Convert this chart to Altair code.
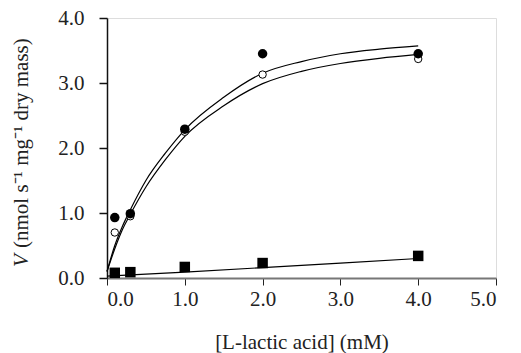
import altair as alt
import pandas as pd

conc = [0.1, 0.3, 1.0, 2.0, 4.0]
filled_circle = [0.93, 0.99, 2.29, 3.45, 3.45]
open_circle = [0.70, 0.95, 2.25, 3.13, 3.37]
filled_square = [0.08, 0.09, 0.17, 0.23, 0.34]

curve_x = [0.0, 0.1, 0.2, 0.3, 0.5, 0.75, 1.0, 1.5, 2.0, 2.5, 3.0, 3.5, 4.0]
curve_upper = [0.1, 0.5, 0.8, 1.05, 1.5, 1.92, 2.28, 2.78, 3.15, 3.33, 3.45, 3.52, 3.57]
curve_lower = [0.1, 0.45, 0.75, 0.98, 1.4, 1.82, 2.18, 2.65, 2.99, 3.18, 3.3, 3.38, 3.44]
line_x = [0.0, 1.0, 2.0, 3.0, 4.0]
line_sq = [0.03, 0.09, 0.16, 0.23, 0.30]

FONT = "Liberation Serif"
FS = 21

pts = pd.DataFrame({"x": conc, "fc": filled_circle, "oc": open_circle, "sq": filled_square})
curves = pd.concat([
    pd.DataFrame({"x": curve_x, "y": curve_upper, "s": "upper"}),
    pd.DataFrame({"x": curve_x, "y": curve_lower, "s": "lower"}),
])
sqline = pd.DataFrame({"x": line_x, "y": line_sq})

xs = alt.Scale(domain=[0, 5], nice=False)
ys = alt.Scale(domain=[0, 4], nice=False)

xax = alt.Axis(values=[0, 1, 2, 3, 4, 5], format=".1f", title="[L-lactic acid] (mM)",
               grid=False, domainColor="#777", domainWidth=2, tickColor="#222", tickSize=7,
               labelFont=FONT, labelFontSize=FS, labelColor="#222", labelPadding=3,
               titleFont=FONT, titleFontSize=FS, titleFontWeight="normal", titleColor="#222",
               titlePadding=22)
yax = alt.Axis(values=[0, 1, 2, 3, 4], format=".1f", title=None,
               grid=False, domainColor="#111", domainWidth=1.5, tickColor="#111", tickSize=8,
               tickWidth=1.5, labelFont=FONT, labelFontSize=FS, labelColor="#222", labelPadding=15)

base = alt.Chart(pts)

curve_layer = alt.Chart(curves).mark_line(color="black", strokeWidth=1.2, interpolate="monotone").encode(
    x=alt.X("x:Q", scale=xs, axis=xax),
    y=alt.Y("y:Q", scale=ys, axis=yax),
    detail="s:N",
)
sq_line = alt.Chart(sqline).mark_line(color="black", strokeWidth=1.2).encode(
    x=alt.X("x:Q", scale=xs), y=alt.Y("y:Q", scale=ys)
)
oc_layer = base.mark_point(shape="circle", filled=False, color="black", fill="white",
                           fillOpacity=1, size=55, strokeWidth=1).encode(
    x=alt.X("x:Q", scale=xs), y=alt.Y("oc:Q", scale=ys)
)
fc_layer = base.mark_point(shape="circle", filled=True, color="black", size=90, opacity=1).encode(
    x=alt.X("x:Q", scale=xs), y=alt.Y("fc:Q", scale=ys)
)
sq_layer = base.mark_point(shape="square", filled=True, color="black", size=110, opacity=1).encode(
    x=alt.X("x:Q", scale=xs), y=alt.Y("sq:Q", scale=ys)
)

title_df = pd.DataFrame({"a": [0]})
v_title = alt.Chart(title_df).mark_text(
    text="V", angle=270, align="left", baseline="middle", font=FONT, fontSize=FS,
    fontStyle="italic", color="#222"
).encode(x=alt.value(-85), y=alt.value(249))
rest_title = alt.Chart(title_df).mark_text(
    text="(nmol s⁻¹ mg⁻¹ dry mass)", angle=270, align="left", baseline="middle",
    font=FONT, fontSize=FS, color="#222"
).encode(x=alt.value(-85), y=alt.value(230))

chart = alt.layer(curve_layer, sq_line, oc_layer, fc_layer, sq_layer, v_title, rest_title).properties(
    width=389, height=260,
    autosize=alt.AutoSizeParams(type="none"),
    padding={"left": 99, "top": 10, "right": 17, "bottom": 75},
).configure_view(stroke=None).configure(background="white")

chart.save("out.html", embed_options={"renderer": "svg", "actions": False})
